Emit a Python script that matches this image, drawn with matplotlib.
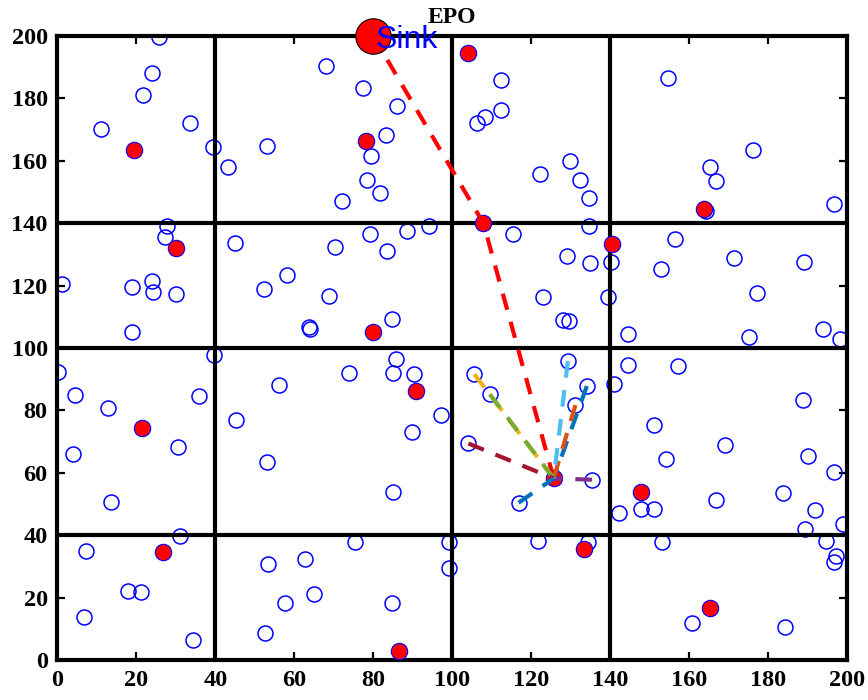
"""EPO cluster layout: sensor nodes, cluster heads, sink and routing paths."""

import matplotlib
matplotlib.use("Agg")
import matplotlib.pyplot as plt

# ordinary sensor nodes (x, y)
node_x = [25.7, 23.9, 21.6, 11.0, 33.6, 39.5, 43.3, 53.0, 27.7, 68.0, 77.4, 86.1, 83.3, 79.5, 78.4,
          81.6, 72.0, 112.3, 112.3, 108.4, 106.3, 122.3, 129.9, 132.4, 134.6, 134.6, 154.6, 176.1,
          165.4, 166.9, 164.2, 196.8, 27.2, 44.9, 1.2, 18.9, 24.0, 24.2, 30.0, 18.9, 58.2, 52.3,
          63.8, 64.0, 39.7, 0.2, 4.5, 12.7, 35.8, 45.3, 56.2, 79.2, 88.5, 94.2, 70.2, 83.4, 68.9,
          84.7, 115.3, 129.1, 135.0, 122.9, 128.1, 129.7, 85.8, 73.9, 85.0, 90.2, 97.1, 89.8, 105.6,
          109.5, 129.3, 134.1, 131.2, 104.1, 140.2, 139.5, 144.4, 156.4, 152.9, 171.3, 177.1, 189.0,
          175.3, 194.0, 198.3, 144.5, 157.2, 140.9, 188.8, 151.2, 169.0, 3.9, 30.6, 53.0, 13.6,
          31.1, 7.2, 17.9, 21.2, 6.8, 34.3, 53.4, 62.6, 65.1, 57.6, 52.5, 85.0, 75.4, 99.1, 99.1,
          84.7, 116.8, 121.7, 134.4, 135.4, 147.8, 151.2, 142.2, 154.2, 190.1, 196.8, 183.7, 166.8,
          191.8, 198.9, 189.3, 153.2, 194.7, 197.1, 196.7, 160.8, 184.3]
node_y = [199.8, 188.0, 181.1, 170.1, 172.2, 164.3, 158.1, 164.8, 139.2, 190.3, 183.2, 177.6, 168.4,
          161.6, 153.7, 149.7, 147.2, 185.9, 176.3, 173.9, 172.0, 155.8, 159.9, 153.8, 148.1, 139.2,
          186.4, 163.5, 157.9, 153.6, 144.0, 146.1, 135.7, 133.5, 120.4, 119.7, 121.4, 117.8, 117.2,
          105.0, 123.4, 118.8, 106.6, 106.0, 97.8, 92.4, 85.0, 80.9, 84.5, 76.9, 88.0, 136.5, 137.5,
          139.1, 132.3, 131.2, 116.7, 109.4, 136.5, 129.5, 127.1, 116.3, 109.0, 108.7, 96.4, 92.1,
          92.1, 91.8, 78.5, 73.2, 91.6, 85.2, 95.8, 87.8, 81.7, 69.4, 127.7, 116.4, 104.4, 134.9,
          125.4, 128.8, 117.5, 127.5, 103.4, 106.1, 102.9, 94.6, 94.2, 88.4, 83.3, 75.4, 68.8, 66.0,
          68.2, 63.5, 50.7, 39.8, 35.0, 22.2, 21.8, 13.7, 6.4, 30.7, 32.3, 21.1, 18.2, 8.8, 53.9,
          37.9, 37.9, 29.4, 18.2, 50.4, 38.2, 37.9, 57.8, 48.4, 48.4, 47.2, 64.4, 65.5, 60.2, 53.6,
          51.2, 48.1, 43.7, 41.9, 37.7, 38.2, 33.4, 31.3, 12.0, 10.5]

# cluster heads
head_x = [19.5, 78.2, 103.9, 107.9, 163.7, 30.0, 80.0, 140.5, 90.9, 21.3, 125.7, 147.8, 26.7,
          133.3, 165.2, 86.4]
head_y = [163.5, 166.2, 194.7, 140.0, 144.6, 132.0, 105.2, 133.2, 86.3, 74.5, 58.2, 53.7, 34.5,
          35.5, 16.7, 3.0]

sink = (80, 200)

# members of the highlighted cluster and their head
member_x = [134.1, 131.2, 105.6, 135.4, 109.5, 129.3, 104.1, 116.8]
member_y = [87.8, 81.7, 91.6, 57.8, 85.2, 95.8, 69.4, 50.4]
cluster_head = (125.7, 58.2)

# multi-hop route to the sink
route_x = [125.7, 107.9, 80]
route_y = [58.2, 140.0, 200]

grid_x = [40, 100, 140]
grid_y = [40, 100, 140]
ticks = list(range(0, 201, 20))

matlab_colors = ["#0072BD", "#D95319", "#EDB120", "#7E2F8E", "#77AC30", "#4DBEEE", "#A2142F"]


def main() -> None:
    plt.rcParams["font.family"] = "Liberation Serif"
    plt.rcParams["font.weight"] = "bold"

    fig = plt.figure(figsize=(8.68, 7.0), dpi=100)
    ax = fig.add_axes([0.0662, 0.0571, 0.9096, 0.8915])

    ax.plot(node_x, node_y, "o", markersize=10.8, markerfacecolor="none",
            markeredgecolor="blue", markeredgewidth=1.1, zorder=2)

    for gx in grid_x:
        ax.plot([gx, gx], [0, 200], color="black", linewidth=3, zorder=3)
    for gy in grid_y:
        ax.plot([0, 200], [gy, gy], color="black", linewidth=3, zorder=3)

    ax.plot(head_x, head_y, "o", markersize=11.8, markerfacecolor="red",
            markeredgecolor="blue", markeredgewidth=0.8, zorder=4)

    ax.plot(route_x, route_y, color="red", linewidth=3, dashes=(4, 3), zorder=5)
    for i, (mx, my) in enumerate(zip(member_x, member_y)):
        ax.plot([mx, cluster_head[0]], [my, cluster_head[1]],
                color=matlab_colors[i % len(matlab_colors)], linewidth=3,
                dashes=(4, 3), zorder=5)

    ax.plot(*sink, "o", markersize=25.5, markerfacecolor="red", markeredgecolor="black",
            markeredgewidth=0.8, zorder=6, clip_on=False)
    ax.text(80.5, 198.6, "Sink", color="blue", fontsize=23, family="Liberation Sans",
            fontweight="normal", ha="left", va="center", zorder=7)

    ax.set_xlim(0, 200)
    ax.set_ylim(0, 200)
    ax.set_xticks(ticks)
    ax.set_yticks(ticks)
    ax.tick_params(direction="in", length=6, width=1.6, top=True, right=True, pad=7,
                   labelsize=17.5)
    for spine in ax.spines.values():
        spine.set_linewidth(3)
    ax.set_title("EPO", fontsize=17, fontweight="bold", pad=9)

    fig.savefig("out.png", dpi=100)
    plt.close(fig)


if __name__ == "__main__":
    main()
